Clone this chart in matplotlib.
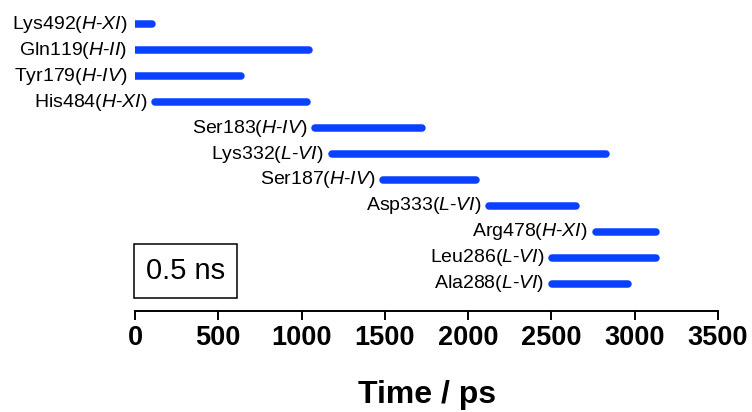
import matplotlib
matplotlib.use('Agg')
import matplotlib.pyplot as plt
from matplotlib.patches import Rectangle

# residues (top to bottom), helix/loop tag, and contact interval in ps
residues = ['Lys492', 'Gln119', 'Tyr179', 'His484', 'Ser183', 'Lys332',
            'Ser187', 'Asp333', 'Arg478', 'Leu286', 'Ala288']
regions = ['H-XI', 'H-II', 'H-IV', 'H-XI', 'H-IV', 'L-VI',
           'H-IV', 'L-VI', 'H-XI', 'L-VI', 'L-VI']
t_start = [0, 0, 0, 120, 1080, 1180, 1490, 2125, 2765, 2505, 2505]
t_end = [100, 1045, 635, 1030, 1720, 2825, 2050, 2650, 3125, 3125, 2960]

xticks = [0, 500, 1000, 1500, 2000, 2500, 3000, 3500]

plt.rcParams['mathtext.fontset'] = 'custom'
plt.rcParams['mathtext.rm'] = 'Liberation Sans'
plt.rcParams['mathtext.it'] = 'Liberation Sans:italic'
plt.rcParams['font.family'] = ['Liberation Sans', 'DejaVu Sans']

W, H = 752, 412
fig = plt.figure(figsize=(W / 100, H / 100), dpi=100)
ax = fig.add_axes([135 / W, (H - 311) / H, 583 / W, 301 / H])

bar_color = '#0a40ff'
for i, (res, reg, s, e) in enumerate(zip(residues, regions, t_start, t_end)):
    ax.plot([s, e], [i, i], color=bar_color, lw=5.4, solid_capstyle='round')
    a, b = reg.split('-')
    label = res + '($\\mathit{' + a + '}$-$\\mathit{' + b + '}$)'
    ax.annotate(label, xy=(s, i), xytext=(-5.5, 0), textcoords='offset points',
                ha='right', va='center', fontsize=14, annotation_clip=False)

ax.set_xlim(0, 3500)
ax.set_ylim(11.04, -0.54)
ax.set_xticks(xticks)
ax.set_xticklabels([str(v) for v in xticks],
                   fontdict={'family': ['Liberation Sans Narrow', 'Liberation Sans'],
                             'weight': 'bold', 'size': 19.5})
ax.tick_params(axis='x', length=6.5, width=1.4, pad=3.5, direction='out')
ax.set_yticks([])
for side in ['top', 'right', 'left']:
    ax.spines[side].set_visible(False)
ax.spines['bottom'].set_linewidth(1.4)

fig.text(427 / W, (H - 403) / H, 'Time / ps', ha='center', va='baseline',
         fontsize=23, fontweight='bold')

# scale box
fig.patches.append(Rectangle((134 / W, (H - 298) / H), 103 / W, 54 / H,
                             transform=fig.transFigure, fill=False,
                             edgecolor='black', lw=1.1))
fig.text(185.5 / W, (H - 271) / H, '0.5 ns', ha='center', va='center', fontsize=21)

fig.savefig('out.png', dpi=100)
